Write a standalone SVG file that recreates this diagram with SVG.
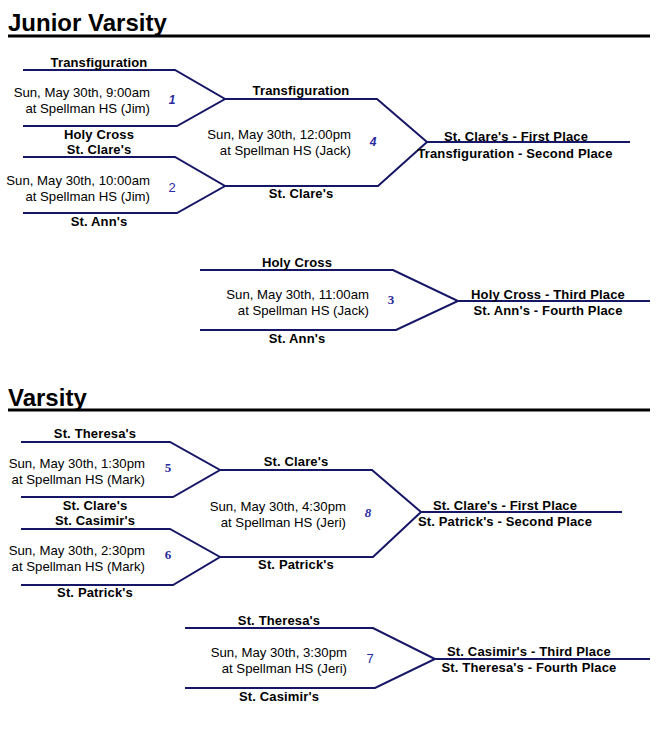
<svg xmlns="http://www.w3.org/2000/svg" width="661" height="735" viewBox="0 0 661 735">
<style>
.t{font-family:"Liberation Sans",Arial,sans-serif;font-size:24px;font-weight:bold;fill:#000}
.l{font-family:"Liberation Sans",Arial,sans-serif;font-size:13px;font-weight:bold;fill:#000;text-anchor:middle;letter-spacing:0.15px}
.g{font-family:"Liberation Sans",Arial,sans-serif;font-size:13.2px;fill:#000;text-anchor:end}
.n{font-family:"Liberation Sans",Arial,sans-serif;font-size:12px;font-style:italic;font-weight:bold;fill:#2a2aa0;text-anchor:middle}
.ns{font-family:"Liberation Serif","Times New Roman",serif;font-size:13px;font-weight:bold;fill:#2a2aa0;text-anchor:middle}
.c{fill:none;stroke:#161666;stroke-width:2}
.u{stroke:#000;stroke-width:3}
</style>
<rect width="661" height="735" fill="#fff"/>
<g id="jv-title"><text class="t" x="8" y="31">Junior Varsity</text><line class="u" x1="8" y1="36" x2="650" y2="36"/></g>
<g id="v-title"><text class="t" x="8" y="406">Varsity</text><line class="u" x1="8" y1="410" x2="650" y2="410"/></g>
<g id="connectors">
<polyline class="c" points="23,70 175,70 225,99 177,126 23,126"/>
<polyline class="c" points="23,157 175,157 225,186 177,213 23,213"/>
<polyline class="c" points="225,99 377,99 427,142 378,186 225,186"/>
<line class="c" x1="427" y1="142" x2="630" y2="142"/>
<polyline class="c" points="200,270 393,270 458,301 396,330 200,330"/>
<line class="c" x1="458" y1="301" x2="650" y2="301"/>
<polyline class="c" points="21,442 170,442 220,470 173,497 21,497"/>
<polyline class="c" points="21,529 170,529 220,557 173,585 21,585"/>
<polyline class="c" points="220,470 372,470 421,512 373,557 220,557"/>
<line class="c" x1="421" y1="512" x2="622" y2="512"/>
<polyline class="c" points="185,628 373,628 435,659 375,688 185,688"/>
<line class="c" x1="435" y1="659" x2="650" y2="659"/>
</g>
<g id="game1"><text class="l" x="99" y="67">Transfiguration</text><text class="g" x="150" y="97">Sun, May 30th, 9:00am</text><text class="g" x="150" y="113">at Spellman HS (Jim)</text><text class="n" x="172" y="104">1</text><text class="l" x="99" y="139">Holy Cross</text></g>
<g id="game2"><text class="l" x="99" y="154">St. Clare's</text><text class="g" x="150" y="185">Sun, May 30th, 10:00am</text><text class="g" x="150" y="201">at Spellman HS (Jim)</text><text class="ns" x="172" y="192" style="font-family:'Liberation Sans',Arial,sans-serif;font-weight:normal">2</text><text class="l" x="99" y="226">St. Ann's</text></g>
<g id="game4"><text class="l" x="301" y="95">Transfiguration</text><text class="g" x="351" y="139">Sun, May 30th, 12:00pm</text><text class="g" x="351" y="155">at Spellman HS (Jack)</text><text class="n" x="373" y="146">4</text><text class="l" x="301" y="198">St. Clare's</text></g>
<g id="final-jv"><text class="l" x="516" y="141">St. Clare's - First Place</text><text class="l" x="515" y="158">Transfiguration - Second Place</text></g>
<g id="game3"><text class="l" x="297" y="267">Holy Cross</text><text class="g" x="369" y="299">Sun, May 30th, 11:00am</text><text class="g" x="369" y="315">at Spellman HS (Jack)</text><text class="ns" x="391" y="304">3</text><text class="l" x="297" y="343">St. Ann's</text></g>
<g id="final-jv3"><text class="l" x="548" y="299">Holy Cross - Third Place</text><text class="l" x="548" y="315">St. Ann's - Fourth Place</text></g>
<g id="game5"><text class="l" x="95" y="438">St. Theresa's</text><text class="g" x="145" y="468">Sun, May 30th, 1:30pm</text><text class="g" x="145" y="484">at Spellman HS (Mark)</text><text class="ns" x="168" y="472">5</text><text class="l" x="95" y="510">St. Clare's</text></g>
<g id="game6"><text class="l" x="95" y="525">St. Casimir's</text><text class="g" x="145" y="555">Sun, May 30th, 2:30pm</text><text class="g" x="145" y="571">at Spellman HS (Mark)</text><text class="ns" x="168" y="559">6</text><text class="l" x="95" y="597">St. Patrick's</text></g>
<g id="game8"><text class="l" x="296" y="466">St. Clare's</text><text class="g" x="346" y="511">Sun, May 30th, 4:30pm</text><text class="g" x="346" y="527">at Spellman HS (Jeri)</text><text class="ns" x="368" y="517" style="font-style:italic">8</text><text class="l" x="296" y="569">St. Patrick's</text></g>
<g id="final-v"><text class="l" x="505" y="510">St. Clare's - First Place</text><text class="l" x="505" y="526">St. Patrick's - Second Place</text></g>
<g id="game7"><text class="l" x="279" y="625">St. Theresa's</text><text class="g" x="347" y="657">Sun, May 30th, 3:30pm</text><text class="g" x="347" y="673">at Spellman HS (Jeri)</text><text class="ns" x="370" y="663" style="font-family:'Liberation Sans',Arial,sans-serif;font-weight:normal">7</text><text class="l" x="279" y="701">St. Casimir's</text></g>
<g id="final-v7"><text class="l" x="529" y="656">St. Casimir's - Third Place</text><text class="l" x="529" y="672">St. Theresa's - Fourth Place</text></g>
</svg>
